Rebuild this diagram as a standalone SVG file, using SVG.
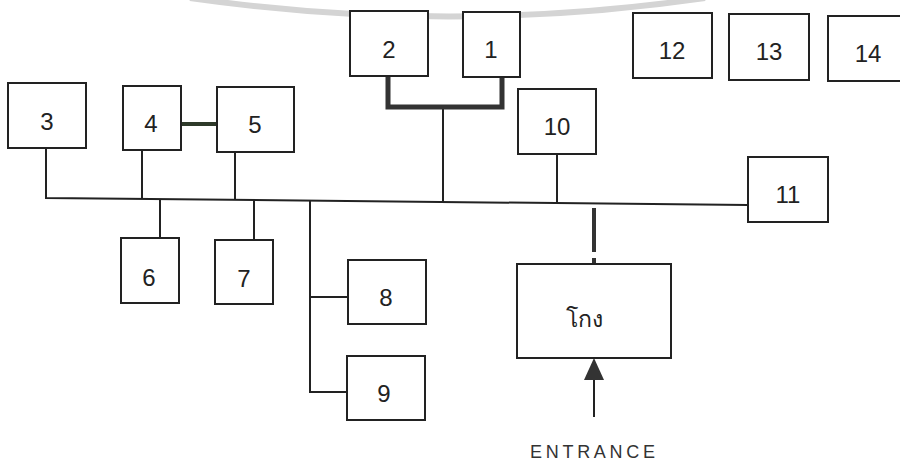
<svg xmlns="http://www.w3.org/2000/svg" width="900" height="462" viewBox="0 0 900 462">
<style>
.box{fill:#fff;stroke:#222;stroke-width:2}
.lbl{font-family:"Liberation Sans",Arial,sans-serif;font-size:24px;fill:#222;text-anchor:middle}
.ln{fill:none;stroke:#222;stroke-width:2}
.thick{fill:none;stroke:#333;stroke-width:5}
</style>
<rect width="900" height="462" fill="#fff"/>
<path d="M190,-2 Q450,35 705,-2" fill="none" stroke="#d4d4d4" stroke-width="6"/>
<g id="connectors">
<polyline class="ln" points="46,148 46,198 748,205"/>
<line class="ln" x1="142" y1="143" x2="142" y2="199"/>
<line class="ln" x1="235" y1="143" x2="235" y2="200"/>
<line class="ln" x1="443" y1="108" x2="443" y2="202"/>
<line class="ln" x1="557" y1="146" x2="557" y2="203"/>
<line class="ln" x1="160" y1="199" x2="160" y2="238"/>
<line class="ln" x1="254" y1="200" x2="254" y2="240"/>
<polyline class="ln" points="310,201 310,392 348,392"/>
<line class="ln" x1="310" y1="297" x2="348" y2="297"/>
<polyline class="thick" points="388,69 388,107 502,107 502,69"/>
<line x1="181" y1="124" x2="217" y2="124" stroke="#2e3a2a" stroke-width="4"/>
<line x1="594" y1="208" x2="594" y2="252" stroke="#333" stroke-width="4"/>
<line x1="594" y1="258" x2="594" y2="264" stroke="#333" stroke-width="4"/>
<line class="ln" x1="594" y1="417" x2="594" y2="378"/>
<polygon points="594,358 584,380 604,380" fill="#333"/>
</g>
<g id="n1"><rect class="box" x="463" y="12" width="57" height="65"/><text class="lbl" x="491" y="58">1</text></g>
<g id="n2"><rect class="box" x="350" y="11" width="78" height="65"/><text class="lbl" x="389" y="58">2</text></g>
<g id="n3"><rect class="box" x="8" y="83" width="78" height="65"/><text class="lbl" x="47" y="130">3</text></g>
<g id="n4"><rect class="box" x="123" y="86" width="58" height="64"/><text class="lbl" x="151" y="132">4</text></g>
<g id="n5"><rect class="box" x="217" y="87" width="77" height="65"/><text class="lbl" x="255" y="133">5</text></g>
<g id="n6"><rect class="box" x="121" y="238" width="58" height="65"/><text class="lbl" x="149" y="286">6</text></g>
<g id="n7"><rect class="box" x="215" y="240" width="58" height="64"/><text class="lbl" x="244" y="287">7</text></g>
<g id="n8"><rect class="box" x="348" y="260" width="78" height="64"/><text class="lbl" x="386" y="306">8</text></g>
<g id="n9"><rect class="box" x="347" y="356" width="78" height="64"/><text class="lbl" x="384" y="402">9</text></g>
<g id="n10"><rect class="box" x="518" y="89" width="78" height="65"/><text class="lbl" x="557" y="135">10</text></g>
<g id="n11"><rect class="box" x="748" y="157" width="80" height="65"/><text class="lbl" x="788" y="203">11</text></g>
<g id="n12"><rect class="box" x="633" y="13" width="79" height="65"/><text class="lbl" x="672" y="59">12</text></g>
<g id="n13"><rect class="box" x="729" y="14" width="80" height="66"/><text class="lbl" x="769" y="60">13</text></g>
<g id="n14"><rect class="box" x="828" y="16" width="80" height="65"/><text class="lbl" x="868" y="62">14</text></g>
<g id="gate"><rect class="box" x="517" y="264" width="154" height="94"/><text class="lbl" x="584" y="327" style="font-family:'Noto Sans','DejaVu Sans',sans-serif;font-size:23px">โกง</text></g>
<g id="entrance"><text x="530" y="458" textLength="125" lengthAdjust="spacing" style="font-family:'Liberation Sans',Arial,sans-serif;font-size:18px;fill:#333">ENTRANCE</text></g>
</svg>
